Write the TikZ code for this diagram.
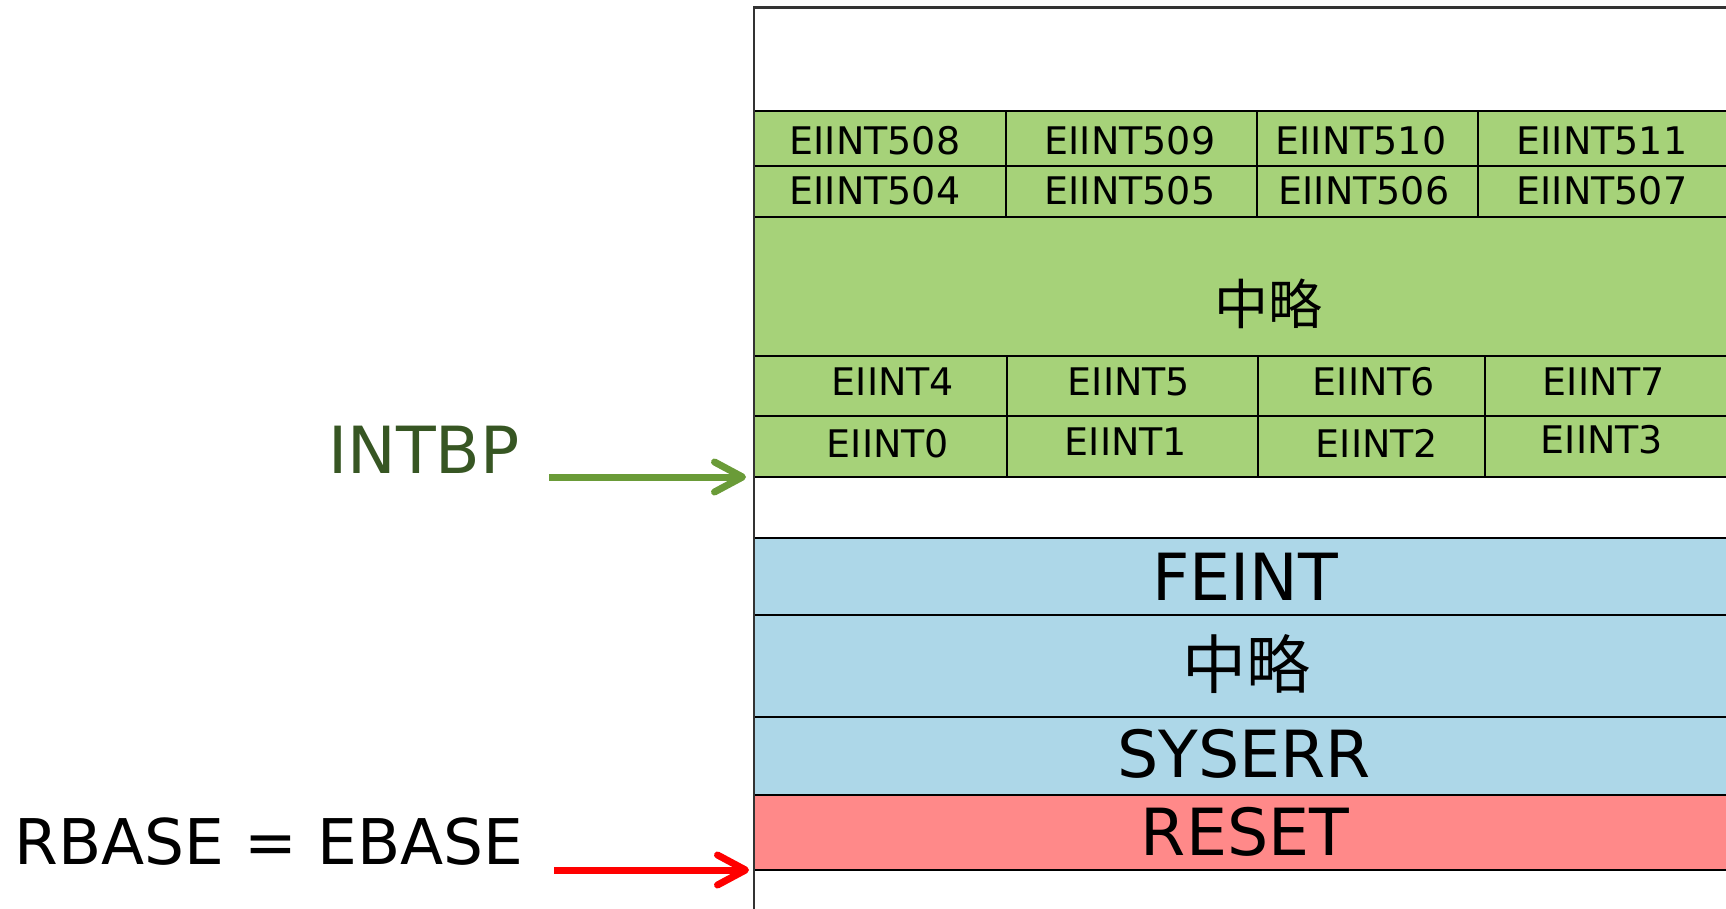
\documentclass[tikz,border=0pt]{standalone}
\usepackage{fontspec}
\setmainfont{DejaVu Sans}
\newfontfamily\cjk{Noto Sans CJK JP}
\usetikzlibrary{arrows.meta}
\definecolor{gfill}{HTML}{A6D279}
\definecolor{bfill}{HTML}{ADD7E8}
\definecolor{rfill}{HTML}{FF8989}
\definecolor{intbpc}{HTML}{375623}
\definecolor{garrow}{HTML}{6A9B38}
\definecolor{frame}{HTML}{333333}
\begin{document}
\begin{tikzpicture}[x=1pt,y=-1pt,
  cell/.style={font=\fontsize{38}{40}\selectfont, anchor=base, inner sep=0pt},
  big/.style={font=\fontsize{65}{70}\selectfont, anchor=base, inner sep=0pt},
  jp/.style={font=\cjk\fontsize{#1}{#1}\selectfont, anchor=center, inner sep=0pt},
  gridline/.style={line width=2pt, draw=black},
  framelin/.style={line width=2.5pt, draw=frame},
  ptr/.style={line width=7pt, -{Straight Barb[length=28pt,width=30pt,round]}}]
\useasboundingbox (0,0) rectangle (1726,909);
% fills
\fill[gfill] (754,111) rectangle (1726,477);
\fill[bfill] (754,538) rectangle (1726,795);
\fill[rfill] (754,795) rectangle (1726,870);
% green grid
\foreach \yy in {111,166,217,356,416,477} \draw[gridline] (754,\yy) -- (1726,\yy);
\foreach \xx in {1006,1257,1478} \draw[gridline] (\xx,111) -- (\xx,217);
\foreach \xx in {1007,1258,1485} \draw[gridline] (\xx,356) -- (\xx,477);
% blue/red lines
\foreach \yy in {538,615,717,795,870} \draw[gridline] (754,\yy) -- (1726,\yy);
% outer frame
\draw[framelin] (754,909) -- (754,7.7) -- (1726,7.7);
% cell texts
\node[cell] (e508) at (875,155) {EIINT508};
\node[cell] (e509) at (1130,155) {EIINT509};
\node[cell] (e510) at (1361,155) {EIINT510};
\node[cell] (e511) at (1602,155) {EIINT511};
\node[cell] (e504) at (875,205) {EIINT504};
\node[cell] (e505) at (1130,205) {EIINT505};
\node[cell] (e506) at (1364,205) {EIINT506};
\node[cell] (e507) at (1602,205) {EIINT507};
\node[jp=54] (gmid) at (1268,304) {中略};
\node[cell] (e4) at (893,395) {EIINT4};
\node[cell] (e5) at (1129,395) {EIINT5};
\node[cell] (e6) at (1374,395) {EIINT6};
\node[cell] (e7) at (1604,395) {EIINT7};
\node[cell] (e0) at (888,457) {EIINT0};
\node[cell] (e1) at (1126,455) {EIINT1};
\node[cell] (e2) at (1377,457) {EIINT2};
\node[cell] (e3) at (1602,453) {EIINT3};
% blue / red
\node[big] (feint) at (1245,600) {FEINT};
\node[jp=64] (bmid) at (1246,664) {中略};
\node[big] (syserr) at (1244,777) {SYSERR};
\node[big] (reset) at (1245,855) {RESET};
% labels
\node[big, text=intbpc] (intbp) at (424,473) {INTBP};
\node[font=\fontsize{63}{70}\selectfont, anchor=base, inner sep=0pt] (rbase) at (269,864) {RBASE = EBASE};
% arrows
\coordinate (intbpFrom) at (549,477);
\coordinate (intbpTo) at (746,477);
\coordinate (rbaseFrom) at (554,870);
\coordinate (rbaseTo) at (749,870);
\draw[ptr, garrow] (intbpFrom) -- (intbpTo);
\draw[ptr, red] (rbaseFrom) -- (rbaseTo);
\end{tikzpicture}
\end{document}
